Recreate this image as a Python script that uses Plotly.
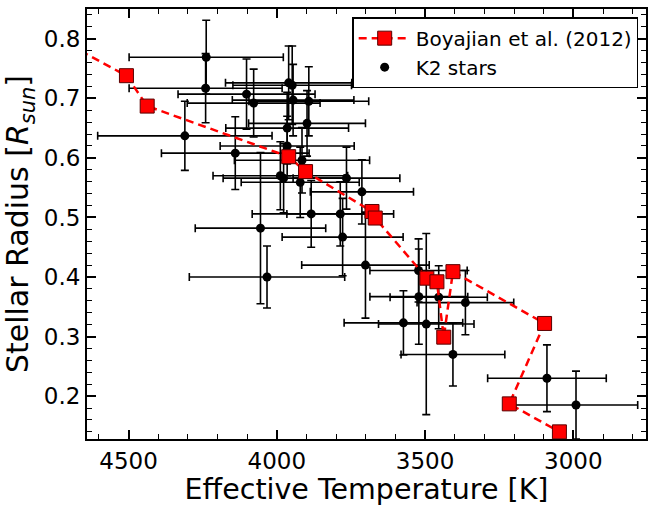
import plotly.graph_objects as go

# Boyajian et al. (2012) stars (plot order follows the dashed line)
boy_teff = [4700, 4507, 4437, 3960, 3903, 3679, 3668, 3494, 3460, 3437, 3406, 3097, 3216, 3047]
boy_rad = [0.790, 0.738, 0.687, 0.602, 0.577, 0.510, 0.499, 0.398, 0.392, 0.299, 0.409, 0.322, 0.187, 0.140]

# K2 stars
k2_teff = [4238, 4240, 4310, 4140, 4102, 4078, 3960, 3948, 3945, 3892, 3898, 3965,
           3965, 3915, 3988, 3977, 3921, 3765, 3713, 3884, 3786, 3778, 3701, 4055,
           4033, 3522, 3521, 3454, 3364, 3573, 3496, 3406, 3089, 2991]
k2_teff_err = [260, 258, 294, 249, 231, 224, 213, 200, 205, 202, 197, 207,
               226, 228, 227, 204, 199, 180, 174, 199, 180, 204, 215, 220,
               262, 164, 165, 164, 163, 200, 161, 175, 200, 208]
k2_rad = [0.769, 0.717, 0.637, 0.608, 0.707, 0.692, 0.726, 0.722, 0.697, 0.695, 0.658, 0.650,
          0.620, 0.596, 0.570, 0.566, 0.559, 0.566, 0.543, 0.506, 0.506, 0.467, 0.420, 0.482,
          0.400, 0.411, 0.367, 0.366, 0.357, 0.323, 0.321, 0.270, 0.230, 0.185]
k2_rad_err = [0.062, 0.058, 0.058, 0.061, 0.059, 0.057, 0.062, 0.066, 0.060, 0.058, 0.055, 0.060,
              0.050, 0.055, 0.057, 0.058, 0.059, 0.052, 0.054, 0.056, 0.054, 0.065, 0.089, 0.127,
              0.052, 0.053, 0.080, 0.053, 0.054, 0.054, 0.152, 0.053, 0.056, 0.057]

FONT = "DejaVu Sans"

fig = go.Figure()
fig.add_trace(go.Scatter(
    x=k2_teff, y=k2_rad, mode="markers", name="K2 stars", legendrank=2,
    marker=dict(color="black", size=9, symbol="circle"),
    error_x=dict(type="data", array=k2_teff_err, color="black", thickness=1.6, width=4),
    error_y=dict(type="data", array=k2_rad_err, color="black", thickness=1.6, width=4),
))
fig.add_trace(go.Scatter(
    x=boy_teff, y=boy_rad, mode="lines+markers", name="Boyajian et al. (2012)", legendrank=1,
    line=dict(color="red", width=2.5, dash="8px,5px"),
    marker=dict(color="red", size=14, symbol="square", line=dict(color="rgb(90,0,0)", width=1)),
))

axis_common = dict(
    showline=True, linecolor="black", linewidth=2, mirror="ticks",
    ticks="inside", ticklen=9, tickwidth=1.5, tickcolor="black",
    showgrid=False, zeroline=False,
    tickfont=dict(family=FONT, size=23, color="black"),
)

fig.update_xaxes(
    range=[4640, 2755], tick0=0, dtick=500,
    minor=dict(ticks="inside", ticklen=5, tickwidth=1.2, tickcolor="black", dtick=100, showgrid=False),
    title=dict(text="Effective Temperature [K]", font=dict(family=FONT, size=28.5, color="black"), standoff=8),
    **axis_common,
)
fig.update_yaxes(
    range=[0.128, 0.85], tick0=0, dtick=0.1, tickformat=".1f",
    minor=dict(ticks="inside", ticklen=5, tickwidth=1.2, tickcolor="black", dtick=0.02, showgrid=False),
    title=dict(text="Stellar Radius [<i>R<sub>sun</sub></i>]", font=dict(family=FONT, size=30, color="black"), standoff=6),
    **axis_common,
)

fig.update_layout(
    width=648, height=506,
    margin=dict(l=87, r=2, t=9, b=67, autoexpand=False),
    plot_bgcolor="white", paper_bgcolor="white",
    font=dict(family=FONT, color="black"),
    legend=dict(x=0.986, y=0.981, xanchor="right", yanchor="top",
                bordercolor="black", borderwidth=1.5, bgcolor="white", itemwidth=52,
                font=dict(family=FONT, size=20, color="black")),
)

fig.write_html("out.html")
